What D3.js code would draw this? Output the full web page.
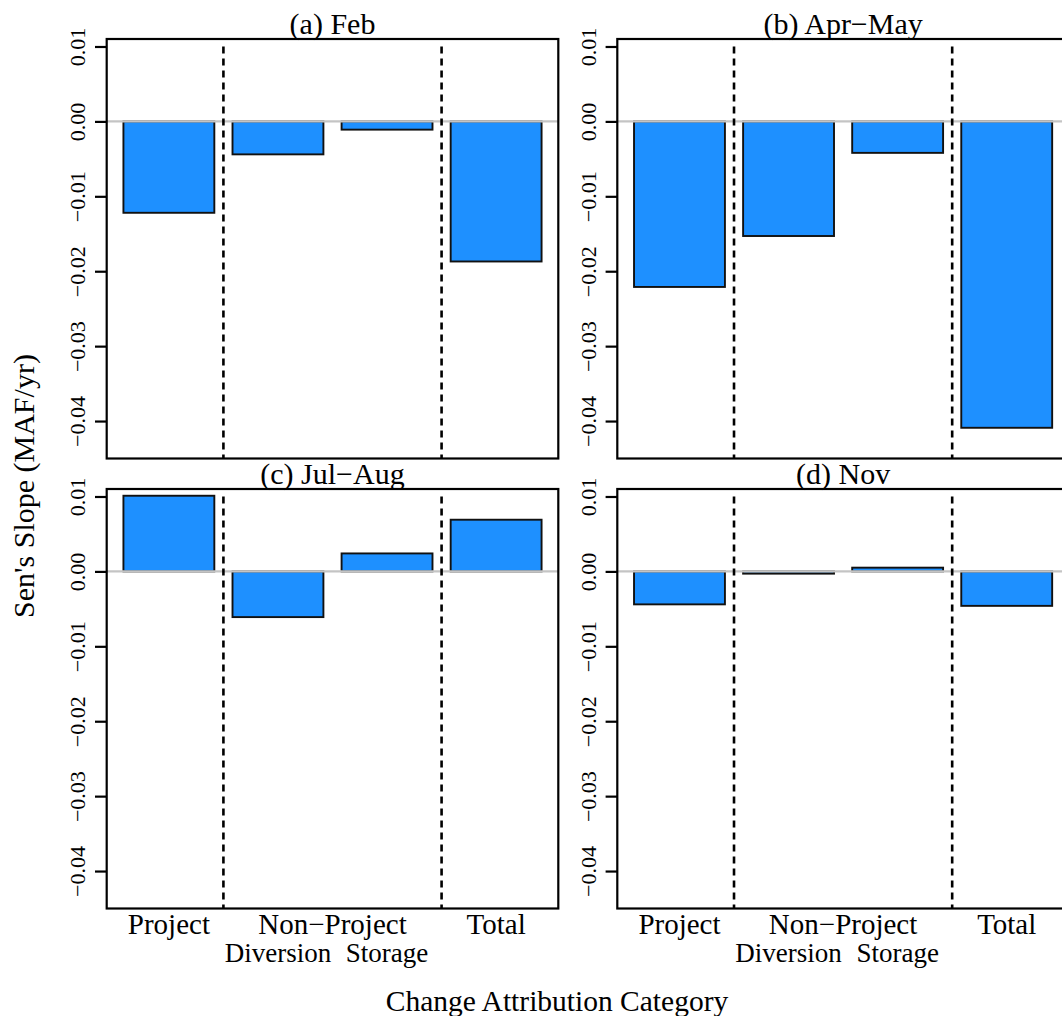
<!DOCTYPE html>
<html>
<head>
<meta charset="utf-8">
<script src="https://cdn.jsdelivr.net/npm/d3@7"></script>
<style>
  body { margin: 0; background: white; }
  svg { display: block; }
</style>
</head>
<body>
<script>
// panel titles, bar categories and Sen's slope values (MAF/yr)
const panelTitles = ["(a) Feb", "(b) Apr\u2212May", "(c) Jul\u2212Aug", "(d) Nov"];
const categories = ["Project", "Diversion", "Storage", "Total"];
const febValues = [-0.0122, -0.0044, -0.0011, -0.0187];
const aprMayValues = [-0.0221, -0.0153, -0.0042, -0.0409];
const julAugValues = [0.0101, -0.0061, 0.0024, 0.0069];
const novValues = [-0.0044, -0.0003, 0.0005, -0.0046];
const yTicks = [0.01, 0.00, -0.01, -0.02, -0.03, -0.04];

const allValues = [febValues, aprMayValues, julAugValues, novValues];

const width = 1062;
const height = 1016;
const font = "'Liberation Serif', 'Times New Roman', serif";

const panelW = 451.6;
const panelH = 419.5;
const lefts = [106.7, 617.3];
const tops = [39, 489];

const svg = d3.select("body").append("svg")
    .attr("width", width)
    .attr("height", height)
    .style("font-family", font);

svg.append("rect").attr("width", width).attr("height", height).attr("fill", "white");

// y scale is shared (same limits in every panel)
const y = d3.scaleLinear().domain([-0.0450, 0.0110]).range([panelH, 0]);
// R barplot units: bars of width 1, space 0.2, xlim extended by 4%
const xu = d3.scaleLinear().domain([0.016, 4.984]).range([0, panelW]);
const x = d3.scaleBand().domain(categories)
    .range([xu(0.1), xu(4.9)])
    .paddingInner(0.2 / 1.2)
    .paddingOuter(0.1 / 1.2);

allValues.forEach(function(values, p) {
  const col = p % 2, row = Math.floor(p / 2);
  const g = svg.append("g").attr("transform", "translate(" + lefts[col] + "," + tops[row] + ")");

  // bars
  g.selectAll("rect.bar")
    .data(categories.map((c, i) => [c, values[i]]))
    .enter().append("rect")
      .attr("class", "bar")
      .attr("x", d => x(d[0]))
      .attr("width", x.bandwidth())
      .attr("y", d => y(Math.max(0, d[1])))
      .attr("height", d => Math.abs(y(d[1]) - y(0)))
      .attr("fill", "#1E90FF")
      .attr("stroke", "#111")
      .attr("stroke-width", 1.9);

  // zero line
  g.append("line")
    .attr("x1", 0).attr("x2", panelW)
    .attr("y1", y(0)).attr("y2", y(0))
    .attr("stroke", "#c4c4c4")
    .attr("stroke-width", 2.2);

  // dashed separators between Project | Non-Project | Total
  const seps = [
    (x("Project") + x.bandwidth() + x("Diversion")) / 2,
    (x("Storage") + x.bandwidth() + x("Total")) / 2
  ];
  g.selectAll("line.sep")
    .data(seps).enter().append("line")
      .attr("class", "sep")
      .attr("x1", d => d).attr("x2", d => d)
      .attr("y1", y(0.01)).attr("y2", panelH)
      .attr("stroke", "#000")
      .attr("stroke-width", 2.6)
      .attr("stroke-dasharray", "7,5");

  // box
  g.append("rect")
    .attr("x", 0).attr("y", 0)
    .attr("width", panelW).attr("height", panelH)
    .attr("fill", "none")
    .attr("stroke", "#000")
    .attr("stroke-width", 2.2);

  // y axis with rotated labels
  const ax = g.append("g")
    .call(d3.axisLeft(y).tickValues(yTicks).tickSize(11.7).tickFormat(d3.format(".2f")));
  ax.select(".domain").remove();
  ax.selectAll(".tick line").attr("stroke", "#000").attr("stroke-width", 2.2);
  ax.selectAll(".tick text")
    .attr("x", 0)
    .attr("y", -21.5)
    .attr("dy", 0)
    .attr("transform", "rotate(-90)")
    .attr("text-anchor", "middle")
    .attr("fill", "#000")
    .style("font-family", font)
    .style("font-size", "22px");

  // panel title
  g.append("text")
    .attr("x", panelW / 2)
    .attr("y", -5.5)
    .attr("text-anchor", "middle")
    .style("font-size", "30px")
    .text(panelTitles[p]);

  // category labels on the bottom row
  if (row === 1) {
    const lab = g.append("g").style("font-size", "29px").attr("text-anchor", "middle");
    lab.append("text")
      .attr("x", x("Project") + x.bandwidth() / 2).attr("y", panelH + 25)
      .text("Project");
    lab.append("text")
      .attr("x", (x("Diversion") + x("Storage") + x.bandwidth()) / 2).attr("y", panelH + 25)
      .text("Non\u2212Project");
    lab.append("text")
      .attr("x", x("Total") + x.bandwidth() / 2).attr("y", panelH + 25)
      .text("Total");
    lab.append("text")
      .attr("x", x("Diversion") + x.bandwidth() / 2).attr("y", panelH + 53.5)
      .style("font-size", "27px")
      .text("Diversion");
    lab.append("text")
      .attr("x", x("Storage") + x.bandwidth() / 2).attr("y", panelH + 53.5)
      .style("font-size", "27px")
      .text("Storage");
  }
});

// axis titles
svg.append("text")
  .attr("x", 557)
  .attr("y", 1010.5)
  .attr("text-anchor", "middle")
  .style("font-size", "29.5px")
  .text("Change Attribution Category");

svg.append("text")
  .attr("transform", "translate(34,486) rotate(-90)")
  .attr("text-anchor", "middle")
  .style("font-size", "30px")
  .text("Sen's Slope (MAF/yr)");
</script>
</body>
</html>
